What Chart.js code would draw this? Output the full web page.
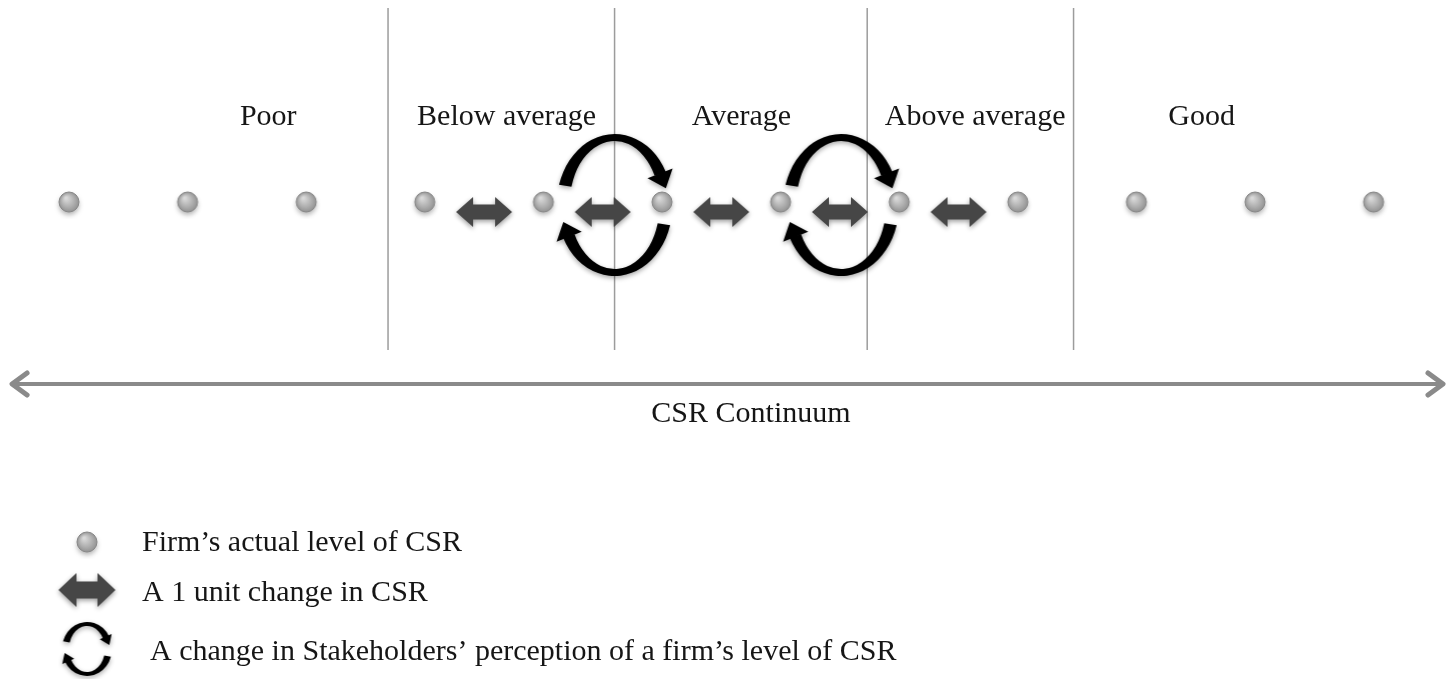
<!DOCTYPE html>
<html lang="en">
<head>
<meta charset="UTF-8">
<script src="https://cdn.jsdelivr.net/npm/chart.js"></script>
<title>CSR Continuum</title>
<style>
    body { margin: 0; background: #fff; }
    canvas { display: block; }
</style>
</head>
<body>
<canvas id="csrChart" width="1450" height="679"></canvas>
<script>
// firm CSR levels along the continuum
const levels = [1, 2, 3, 4, 5, 6, 7, 8, 9, 10, 11, 12];
// 1 unit changes (double arrows) between neighbouring levels
const unitChanges = [[4, 5], [5, 6], [6, 7], [7, 8], [8, 9]];
// stakeholder perception shifts (circular arrows), centre on the level axis
const perceptionShiftAt = [5.6, 7.51];
// category bands
const bandLabels = ['Poor', 'Below average', 'Average', 'Above average', 'Good'];
const bandLabelAt = [2.68, 4.69, 6.67, 8.64, 10.55];
const bandBounds = [3.69, 5.6, 7.73, 9.47];
const continuumSpan = [0.52, 12.585];
const continuumLabelAt = 6.75;
const legendLabels = [
    'Firm\u2019s actual level of CSR',
    'A 1 unit change in CSR',
    'A change in Stakeholders\u2019 perception of a firm\u2019s level of CSR'
];

// layout (pixels on the y scale, which runs top to bottom)
const ROW_Y = 202, ARROW_Y = 212, LABEL_Y = 125;
const BAND_TOP = 8, BAND_BOTTOM = 350;
const CONT_Y = 384, CONT_LABEL_Y = 422;
const LEGEND_ICON_X = 87;
const legendRows = [
    { iconY: 542, textY: 551, textX: 142 },
    { iconY: 590, textY: 601, textX: 142 },
    { iconY: 649, textY: 660, textX: 150 }
];
const FONT = '30px "Liberation Serif", "Times New Roman", serif';
const TEXT_COLOR = '#161616';

function makeDot(r) {
    const c = document.createElement('canvas');
    c.width = c.height = r * 2 + 14;
    const g = c.getContext('2d');
    const cx = c.width / 2, cy = c.height / 2;
    g.shadowColor = 'rgba(0,0,0,0.3)';
    g.shadowBlur = 5;
    g.shadowOffsetY = 3;
    const grad = g.createRadialGradient(cx - 3, cy - 4, 1, cx, cy, r);
    grad.addColorStop(0, '#d9d9d9');
    grad.addColorStop(0.6, '#b0b0b0');
    grad.addColorStop(1, '#939393');
    g.fillStyle = grad;
    g.beginPath();
    g.arc(cx, cy, r, 0, Math.PI * 2);
    g.fill();
    g.shadowColor = 'transparent';
    g.strokeStyle = '#888';
    g.lineWidth = 1;
    g.stroke();
    return c;
}

function makeDoubleArrow(w, h, shaftH, headLen) {
    const pad = 9;
    const c = document.createElement('canvas');
    c.width = w + pad * 2;
    c.height = h + pad * 2;
    const g = c.getContext('2d');
    const x0 = pad, x1 = pad + w, cy = c.height / 2;
    g.shadowColor = 'rgba(0,0,0,0.4)';
    g.shadowBlur = 5;
    g.shadowOffsetY = 2;
    g.fillStyle = '#464646';
    g.beginPath();
    g.moveTo(x0, cy);
    g.lineTo(x0 + headLen, cy - h / 2);
    g.lineTo(x0 + headLen, cy - shaftH / 2);
    g.lineTo(x1 - headLen, cy - shaftH / 2);
    g.lineTo(x1 - headLen, cy - h / 2);
    g.lineTo(x1, cy);
    g.lineTo(x1 - headLen, cy + h / 2);
    g.lineTo(x1 - headLen, cy + shaftH / 2);
    g.lineTo(x0 + headLen, cy + shaftH / 2);
    g.lineTo(x0 + headLen, cy + h / 2);
    g.closePath();
    g.fill();
    return c;
}

function makeCycle(rxO, ryO, rxI, ryI, head, headLen) {
    const pad = 14;
    const c = document.createElement('canvas');
    c.width = Math.ceil(rxO * 2 + head + pad * 2);
    c.height = Math.ceil(ryO * 2 + pad * 2);
    const g = c.getContext('2d');
    const cx = c.width / 2, cy = c.height / 2;
    const rx = (rxO + rxI) / 2, ry = (ryO + ryI) / 2;
    g.fillStyle = '#000';
    g.shadowColor = 'rgba(0,0,0,0.35)';
    g.shadowBlur = 5;
    g.shadowOffsetY = 2;
    const band = (a0, a1) => {
        g.beginPath();
        g.ellipse(cx, cy, rxO, ryO, 0, a0, a1, false);
        g.ellipse(cx, cy, rxI, ryI, 0, a1, a0, true);
        g.closePath();
        g.fill();
    };
    const tip = (a) => {
        const bx = cx + rx * Math.cos(a), by = cy + ry * Math.sin(a);
        let tx = -rx * Math.sin(a), ty = ry * Math.cos(a);
        const n = Math.hypot(tx, ty);
        tx /= n; ty /= n;
        const nx = -ty, ny = tx;
        g.beginPath();
        g.moveTo(bx + nx * head / 2 - tx, by + ny * head / 2 - ty);
        g.lineTo(bx + tx * headLen, by + ty * headLen);
        g.lineTo(bx - nx * head / 2 - tx, by - ny * head / 2 - ty);
        g.closePath();
        g.fill();
    };
    band(3.43, 5.81);
    tip(5.81);
    band(0.29, 2.667);
    tip(2.667);
    return c;
}

const dotImg = makeDot(10);
const arrowImg = makeDoubleArrow(56, 30, 15, 17);
const cycleImg = makeCycle(58, 71, 45, 64, 27, 15);
const legendArrowImg = makeDoubleArrow(57, 34, 17, 18);
const legendCycleImg = makeCycle(25, 27, 18, 23, 13, 8);

const diagramPlugin = {
    id: 'csrDiagram',
    beforeDatasetsDraw(chart) {
        const { ctx, scales: { x, y } } = chart;
        ctx.save();
        // band dividers
        ctx.strokeStyle = '#9c9c9c';
        ctx.lineWidth = 1.5;
        bandBounds.forEach(b => {
            const px = x.getPixelForValue(b);
            ctx.beginPath();
            ctx.moveTo(px, y.getPixelForValue(BAND_TOP));
            ctx.lineTo(px, y.getPixelForValue(BAND_BOTTOM));
            ctx.stroke();
        });
        // band labels
        ctx.font = FONT;
        ctx.fillStyle = TEXT_COLOR;
        ctx.textAlign = 'center';
        ctx.textBaseline = 'alphabetic';
        bandLabels.forEach((t, i) => {
            ctx.fillText(t, x.getPixelForValue(bandLabelAt[i]), y.getPixelForValue(LABEL_Y));
        });
        // continuum arrow
        const cy = y.getPixelForValue(CONT_Y);
        const xa = x.getPixelForValue(continuumSpan[0]);
        const xb = x.getPixelForValue(continuumSpan[1]);
        ctx.strokeStyle = '#8a8a8a';
        ctx.lineWidth = 4;
        ctx.lineCap = 'round';
        ctx.lineJoin = 'round';
        ctx.beginPath();
        ctx.moveTo(xa + 2, cy);
        ctx.lineTo(xb - 2, cy);
        ctx.stroke();
        ctx.lineWidth = 5;
        ctx.beginPath();
        ctx.moveTo(xa + 15, cy - 11);
        ctx.lineTo(xa, cy);
        ctx.lineTo(xa + 15, cy + 11);
        ctx.moveTo(xb - 15, cy - 11);
        ctx.lineTo(xb, cy);
        ctx.lineTo(xb - 15, cy + 11);
        ctx.stroke();
        ctx.fillText('CSR Continuum', x.getPixelForValue(continuumLabelAt), y.getPixelForValue(CONT_LABEL_Y));
        ctx.restore();
    },
    afterDatasetsDraw(chart) {
        const { ctx, scales: { y } } = chart;
        ctx.save();
        const icons = [dotImg, legendArrowImg, legendCycleImg];
        ctx.font = FONT;
        ctx.fillStyle = TEXT_COLOR;
        ctx.textAlign = 'left';
        legendRows.forEach((row, i) => {
            const img = icons[i];
            const iy = y.getPixelForValue(row.iconY);
            ctx.drawImage(img, LEGEND_ICON_X - img.width / 2, iy - img.height / 2);
            ctx.fillText(legendLabels[i], row.textX, y.getPixelForValue(row.textY));
        });
        ctx.restore();
    }
};

const ctx = document.getElementById('csrChart').getContext('2d');
const csrChart = new Chart(ctx, {
    type: 'scatter',
    data: {
        datasets: [
            {
                label: 'Firm\u2019s actual level of CSR',
                data: levels.map(l => ({ x: l, y: ROW_Y })),
                pointStyle: dotImg,
                pointRadius: 10
            },
            {
                label: 'A 1 unit change in CSR',
                data: unitChanges.map(p => ({ x: (p[0] + p[1]) / 2, y: ARROW_Y })),
                pointStyle: arrowImg,
                pointRadius: 15
            },
            {
                label: 'Perception shift',
                data: perceptionShiftAt.map(v => ({ x: v, y: ROW_Y + 3 })),
                pointStyle: cycleImg,
                pointRadius: 30
            }
        ]
    },
    options: {
        responsive: false,
        animation: false,
        events: [],
        layout: { padding: 0, autoPadding: false },
        scales: {
            x: { type: 'linear', display: false, min: 0.4182, max: 12.644 },
            y: { type: 'linear', display: false, min: 0, max: 679, reverse: true }
        },
        plugins: {
            legend: { display: false },
            tooltip: { enabled: false }
        }
    },
    plugins: [diagramPlugin]
});
</script>
</body>
</html>
